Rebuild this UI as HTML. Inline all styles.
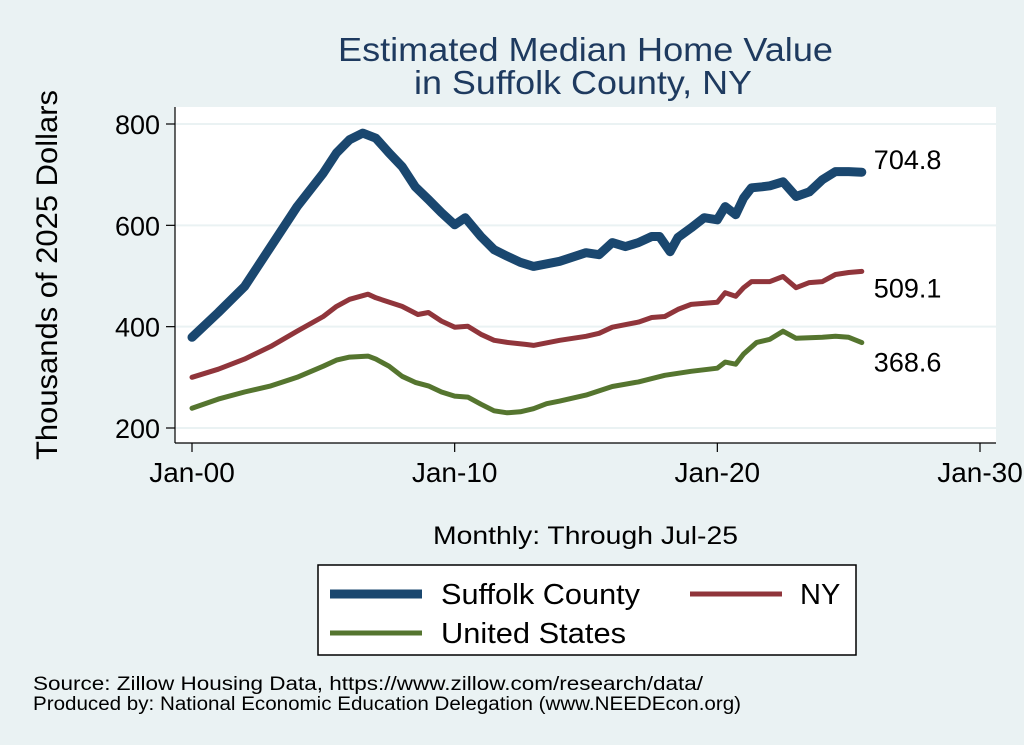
<!DOCTYPE html>
<html><head><meta charset="utf-8"><style>
html,body{margin:0;padding:0;background:#eaf2f3;}
svg{display:block;font-family:"Liberation Sans",sans-serif;}
</style></head><body>
<svg id="chart" width="1024" height="745">
<rect x="0" y="0" width="1024" height="745" fill="#eaf2f3"/>
<rect x="175" y="107" width="821" height="336" fill="#ffffff"/>
<text font-size="33" fill="#1e3a5f"><tspan x="338" y="61" textLength="495" lengthAdjust="spacingAndGlyphs">Estimated Median Home Value</tspan><tspan x="414" y="94" textLength="338" lengthAdjust="spacingAndGlyphs">in Suffolk County, NY</tspan></text>
<text transform="translate(57,460) rotate(-90)" font-size="30" fill="#000" textLength="370" lengthAdjust="spacingAndGlyphs">Thousands of 2025 Dollars</text>
<text x="433" y="544" font-size="25" fill="#000" textLength="305" lengthAdjust="spacingAndGlyphs">Monthly: Through Jul-25</text>
<g id="grid"></g><g id="axes"></g><g id="series"></g>
<g>
<rect x="318" y="565" width="538" height="90" fill="#fff" stroke="#000" stroke-width="1.5"/>
<line x1="330" y1="594" x2="422" y2="594" stroke="#1a476f" stroke-width="9"/>
<text x="441" y="604" font-size="29" textLength="199" lengthAdjust="spacingAndGlyphs">Suffolk County</text>
<line x1="690" y1="594" x2="782" y2="594" stroke="#90353b" stroke-width="5"/>
<text x="800" y="604" font-size="29">NY</text>
<line x1="330" y1="633" x2="422" y2="633" stroke="#55752f" stroke-width="5"/>
<text x="441" y="643" font-size="29" textLength="185" lengthAdjust="spacingAndGlyphs">United States</text>
</g>
<text x="33" y="690" font-size="19" textLength="670" lengthAdjust="spacingAndGlyphs">Source: Zillow Housing Data, https://www.zillow.com/research/data/</text>
<text x="33" y="710" font-size="19" textLength="708" lengthAdjust="spacingAndGlyphs">Produced by: National Economic Education Delegation (www.NEEDEcon.org)</text>
</svg>
<script>
const yTicks=[200,400,600,800];
const xTickYears=[2000,2010,2020,2030];
const xTickLabels=["Jan-00","Jan-10","Jan-20","Jan-30"];
const suffolkT=[2000,2001,2002,2003,2004,2005,2005.5,2006,2006.5,2007,2007.5,2008,2008.5,2009,2009.5,2010,2010.4,2011,2011.5,2012,2012.5,2013,2014,2015,2015.5,2016,2016.5,2017,2017.5,2017.8,2018.2,2018.5,2019,2019.5,2020,2020.3,2020.7,2021,2021.3,2021.7,2022,2022.5,2023,2023.5,2024,2024.5,2025,2025.5];
const suffolkV=[379,428,479,558,637,703,743,769,782,772,743,716,676,651,625,601,615,578,552,539,527,519,529,546,542,566,558,566,578,578,548,576,595,615,611,637,621,654,674,676,678,686,657,666,690,706,706,704.8];
const nyT=[2000,2001,2002,2003,2004,2005,2005.5,2006,2006.7,2007,2008,2008.6,2009,2009.5,2010,2010.5,2011,2011.5,2012,2012.7,2013,2014,2015,2015.5,2016,2017,2017.5,2018,2018.5,2019,2020,2020.3,2020.7,2021,2021.3,2022,2022.5,2023,2023.5,2024,2024.5,2025,2025.5];
const nyV=[300,316,336,361,391,420,440,454,464,457,440,424,428,411,399,401,385,373,369,365,363,373,381,387,399,409,418,420,434,444,448,467,460,477,489,489,499,477,487,489,503,507,509.1];
const usT=[2000,2001,2002,2003,2004,2005,2005.5,2006,2006.7,2007,2007.5,2008,2008.5,2009,2009.5,2010,2010.5,2011,2011.5,2012,2012.5,2013,2013.5,2014,2015,2016,2017,2018,2019,2020,2020.3,2020.7,2021,2021.5,2022,2022.5,2023,2024,2024.5,2025,2025.5];
const usV=[239,257,271,283,300,322,334,340,342,336,322,302,290,283,271,263,261,247,234,230,232,238,248,253,265,282,291,304,312,318,330,326,346,369,375,391,377,379,381,379,368.6];
const endLabels=["704.8","509.1","368.6"];

function xs(t){return 192+(t-2000)*(980-192)/30;}
function ys(v){return 428-(v-200)*(428-124)/600;}
const NS="http://www.w3.org/2000/svg";
const grid=document.getElementById('grid'),axes=document.getElementById('axes'),ser=document.getElementById('series');
function mk(tag,attrs,parent){const e=document.createElementNS(NS,tag);for(const k in attrs)e.setAttribute(k,attrs[k]);parent.appendChild(e);return e;}
yTicks.forEach(v=>{
  const g=mk('line',{x1:175,x2:996,y1:ys(v),y2:ys(v),stroke:'#eaf2f3','stroke-width':2},grid);
  
  
  const t=mk('line',{x1:166,x2:175,y1:ys(v),y2:ys(v),stroke:'#000','stroke-width':1.2},axes);
  
  
  const l=mk('text',{x:160,y:ys(v)+10,'text-anchor':'end','font-size':27},axes);
  l.textContent=v;
  
  
});
const ya=mk('line',{x1:175,x2:175,y1:107,y2:443,stroke:'#000','stroke-width':1.2},axes);


const xa=mk('line',{x1:175,x2:996,y1:443,y2:443,stroke:'#000','stroke-width':1.2},axes);


xTickYears.forEach((yr,i)=>{
  const t=mk('line',{x1:xs(yr),x2:xs(yr),y1:443,y2:452,stroke:'#000','stroke-width':1.2},axes);
  
  
  const l=mk('text',{x:xs(yr),y:482,'text-anchor':'middle','font-size':28},axes);
  l.textContent=xTickLabels[i];
  
  
});
function line(T,V,color,w,name,label){
  const d=T.map((t,i)=>(i?'L':'M')+xs(t).toFixed(1)+','+ys(V[i]).toFixed(1)).join(' ');
  const p=mk('path',{d:d,fill:'none',stroke:color,'stroke-width':w,'stroke-linejoin':'round','stroke-linecap':'round'},ser);
  
  
  const n=T.length-1;
  const l=mk('text',{x:xs(T[n])+12,y:ys(V[n])+(name==='series-suffolk'?-3:name==='series-us'?29:26),'font-size':27},ser);
  l.textContent=label;
  
  
}
line(usT,usV,'#55752f',5,'series-us',endLabels[2]);
line(nyT,nyV,'#90353b',5,'series-ny',endLabels[1]);
line(suffolkT,suffolkV,'#1a476f',9,'series-suffolk',endLabels[0]);
</script>
</body></html>
